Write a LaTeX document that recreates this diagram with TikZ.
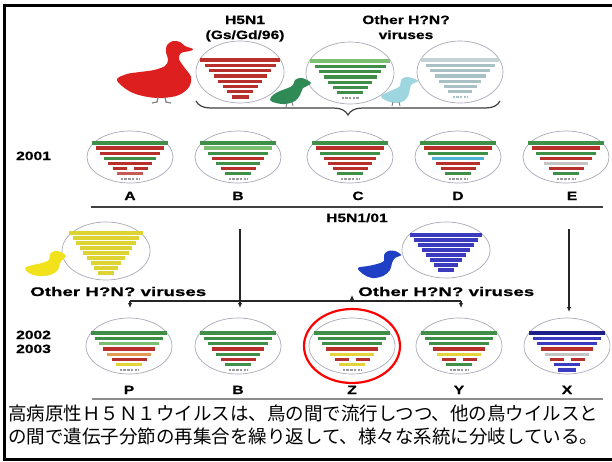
\documentclass[tikz,border=0pt]{standalone}
\usepackage{fontspec}
\setmainfont{Liberation Sans}
\newfontfamily\labfont[FakeStretch=1.3, BoldFeatures={FakeBold=0.6}]{Liberation Sans}
\newfontfamily\widefont[FakeStretch=1.5, BoldFeatures={FakeBold=0.6}]{Liberation Sans}
\newfontfamily\jpfont{Noto Sans CJK JP}
\usetikzlibrary{shapes.geometric, arrows.meta, decorations.pathreplacing}

% segment colours
\definecolor{segG}{HTML}{3F8F48}
\definecolor{segLG}{HTML}{7DBF72}
\definecolor{segR}{HTML}{B8302C}
\definecolor{segO}{HTML}{E39A55}
\definecolor{segY}{HTML}{E2D43A}
\definecolor{segB}{HTML}{4FB3D6}
\definecolor{segGr}{HTML}{C4C4C4}
\definecolor{segN}{HTML}{1F1F8A}
\definecolor{segBl}{HTML}{3B3BC0}
\definecolor{segT}{HTML}{A9C0C4}
\definecolor{segYel}{HTML}{DDD332}
\definecolor{segLbl}{HTML}{9A9A9A}
\definecolor{rim}{HTML}{A9A9B9}
\definecolor{duckRed}{HTML}{DD1F1F}
\definecolor{duckGreen}{HTML}{2F8A55}
\definecolor{duckCyan}{HTML}{9ED6DF}
\definecolor{duckYellow}{HTML}{F2E21C}
\definecolor{duckBlue}{HTML}{1F3FC4}

\tikzset{
  shell/.style={ellipse, draw=rim, line width=0.7pt, minimum width=86pt,
                minimum height=52pt, inner sep=0pt},
  seg/.style={line width=3.3pt},
  lbl/.style={font=\labfont\bfseries\fontsize{12}{13}\selectfont, inner sep=0pt, anchor=base},
  widelbl/.style={font=\widefont\bfseries\fontsize{12.5}{13}\selectfont, inner sep=0pt, anchor=base west},
  yr/.style={lbl, anchor=base west},
  wire/.style={line width=1.6pt, black!85},
  tipped/.style={wire, -{Latex[length=5pt,width=4.5pt]}},
  rule/.style={line width=1.3pt, black!60},
  captext/.style={font=\jpfont\fontsize{18.5}{20}\selectfont, inner sep=0pt, anchor=base west},
}

% stacked gene segments: #1 centre x, #2 top y, #3 step, #4 first half width,
% #5 half width decrement, #6 list of colour/kind (0 bar, 1 split bar, 2 tag)
\newcommand\segs[6]{%
  \foreach \c/\s [count=\i from 0] in {#6}{%
    \pgfmathsetmacro\yy{#2+\i*#3}%
    \pgfmathsetmacro\hw{#4-\i*#5}%
    \ifnum\s=1
      \draw[seg,\c] (#1-\hw,\yy) -- (#1-3.5,\yy) (#1+3.5,\yy) -- (#1+\hw,\yy);
    \else\ifnum\s=2
      \draw[\c,line width=2.4pt,dash pattern=on 2.5pt off 1.2pt] (#1-\hw,\yy) -- (#1+\hw,\yy);
    \else
      \draw[seg,\c] (#1-\hw,\yy) -- (#1+\hw,\yy);
    \fi\fi
  }}

\begin{document}
\begin{tikzpicture}[x=1pt,y=-1pt]
\useasboundingbox (0,0) rectangle (612,461);
\fill[white] (0,0) rectangle (612,461);

% outer frame
\draw[line width=3pt] (612,5.5) -- (4.5,5.5) -- (4.5,459) -- (612,459);

% ---------- source viruses ----------
\node[lbl] (h5a) at (245,24) {H5N1};
\node[lbl] (h5b) at (245,39) {(Gs/Gd/96)};
\node[lbl] (oa) at (406,24) {Other H?N?};
\node[lbl] (ob) at (406,39) {viruses};

\node[shell, minimum width=88pt, minimum height=62pt] (src1) at (240,72) {};
\node[shell, minimum width=88pt, minimum height=62pt] (src2) at (350,73) {};
\node[shell, minimum width=86pt, minimum height=62pt] (src3) at (460,72) {};
\segs{240}{60}{5.3}{40}{4.5}{segR/0,segR/0,segR/0,segR/0,segR/0,segR/0,segR/0,segR/0}
\segs{350}{61}{5.3}{40}{4.5}{segLG/0,segG/0,segG/0,segG/0,segG/0,segG/0,segG/0,segLbl/2}
\segs{460}{60}{5.3}{39}{4.5}{segT!70/0,segT/0,segT/0,segT/0,segT/0,segT/0,segT/0,segT/2}

% ducks
\fill[duckRed] plot[smooth cycle, tension=0.55] coordinates {
  (193,49) (185,46) (180,42) (173,41) (167,45) (166,52) (168,60) (165,66)
  (154,70) (140,72) (127,74) (117,79) (122,86) (133,93) (148,97) (163,98)
  (179,95) (189,87) (191,77) (184,67) (179,59) (181,53) (190,51)};
\draw[gray, line width=1.2pt] (158,97) -- (157,102) -- (152,103) (165,97) -- (166,102) -- (171,103);

\fill[duckGreen] plot[smooth cycle, tension=0.6] coordinates {
  (311,83) (305,79) (300,78) (295,80) (293,85) (288,88) (280,91) (273,95)
  (270,100) (276,103) (286,104) (295,101) (300,95) (303,88) (307,86)};
\draw[gray, line width=0.9pt] (287,103) -- (286,107) (292,102) -- (293,106);

\fill[duckCyan] plot[smooth cycle, tension=0.6] coordinates {
  (418,81) (412,78) (406,77) (401,80) (400,86) (395,89) (388,92) (381,96)
  (385,100) (395,103) (404,101) (409,94) (410,87) (412,84)};
\draw[gray, line width=0.9pt] (393,102) -- (392,106) (399,102) -- (400,106);

% brace gathering the sources
\draw[black!75, line width=1.2pt, decorate,
      decoration={brace, amplitude=14pt, mirror}] (196,101) -- (500,101);

% ---------- 2001 ----------
\node[yr] (y2001) at (16,160) {2001};
\node[shell] (A1) at (130,157) {};
\node[shell] (B1) at (238,157) {};
\node[shell] (C1) at (350,157) {};
\node[shell] (D1) at (458,157) {};
\node[shell] (E1) at (566,157) {};
\segs{130}{143}{5.1}{38}{4.1}{segG/0,segR/0,segR/0,segG/0,segR/0,segR/1,segR!80/0,segLbl/2}
\segs{238}{143}{5.1}{38}{4.1}{segG/0,segLG/0,segG/0,segR/0,segG/0,segR/0,segG/0,segLbl/2}
\segs{350}{143}{5.1}{38}{4.1}{segG/0,segR/0,segG/0,segR/0,segR/0,segR/0,segG/0,segLbl/2}
\segs{458}{143}{5.1}{38}{4.1}{segG/0,segR/0,segG/0,segB/0,segR/0,segR/0,segG/0,segLbl/2}
\segs{566}{143}{5.1}{38}{4.1}{segG/0,segR/0,segG/0,segR/0,segGr/0,segR/0,segG/0,segLbl/2}
\node[lbl] (lA1) at (130,200) {A};
\node[lbl] (lB1) at (238,200) {B};
\node[lbl] (lC1) at (358,200) {C};
\node[lbl] (lD1) at (458,200) {D};
\node[lbl] (lE1) at (572,200) {E};
\coordinate (r1a) at (91,207);
\coordinate (r1b) at (603,207);
\draw[rule, black!75] (r1a) -- (r1b);
\node[lbl] (h501) at (357,222) {H5N1/01};

% ---------- reassortment partners ----------
\node[shell, minimum width=88pt, minimum height=58pt] (yel) at (106,251) {};
\segs{106}{233}{5}{37}{3.6}{segYel/0,segYel/0,segYel/0,segYel/0,segYel/0,segYel/0,segYel/0,segYel/0,segYel/0}
\fill[duckYellow] plot[smooth cycle, tension=0.6] coordinates {
  (66,256) (61,252) (55,251) (50,254) (49,260) (42,263) (33,265) (25,268)
  (29,273) (38,276) (50,275) (58,270) (60,263) (63,259)};
\node[widelbl] (oy) at (30,296) {Other H?N? viruses};

\node[shell, minimum width=88pt, minimum height=56pt] (blu) at (446,250) {};
\segs{446}{235}{5}{36}{4}{segBl/0,segBl/0,segBl/0,segBl/0,segBl/0,segBl/0,segBl/0,segBl/0}
\fill[duckBlue] plot[smooth cycle, tension=0.6] coordinates {
  (401,255) (395,251) (388,251) (384,255) (384,261) (377,264) (368,266) (358,268)
  (363,274) (372,278) (383,276) (390,270) (392,263) (395,258)};
\node[widelbl] (obl) at (358,296) {Other H?N? viruses};

% ---------- lineage arrows ----------
\coordinate (bsrc) at (240,229);
\coordinate (xsrc) at (569,229);
\coordinate (jP) at (130,301);
\coordinate (jB) at (240,301);
\coordinate (jZ) at (352,301);
\coordinate (jY) at (461,301);
\coordinate (pdst) at (130,308);
\coordinate (bdst) at (240,308);
\coordinate (zup) at (352,295);
\coordinate (ydst) at (461,308);
\coordinate (xdst) at (569,312);
\draw[wire] (jP) -- (jY);
\draw[tipped] (bsrc) -- (bdst);
\draw[tipped] (jP) -- (pdst);
\draw[tipped] (jY) -- (ydst);
\draw[tipped] (jZ) -- (zup);
\draw[tipped] (xsrc) -- (xdst);

% ---------- 2002-2003 ----------
\node[yr] (y2002) at (16,339) {2002};
\node[yr] (y2003) at (16,353) {2003};
\node[shell, minimum height=56pt] (P2) at (129,346) {};
\node[shell, minimum height=56pt] (B2) at (238,346) {};
\node[shell, minimum height=56pt] (Z2) at (352,346) {};
\node[shell, minimum height=56pt] (Y2) at (459,346) {};
\node[shell, minimum height=56pt] (X2) at (567,346) {};
\segs{129}{333}{5.3}{38}{4.1}{segG/0,segG/0,segLG/0,segR/0,segO/0,segR/0,segY/0,segLbl/2}
\segs{238}{333}{5.3}{38}{4.1}{segG/0,segG/0,segG/0,segR/0,segG/0,segR/0,segG/0,segLbl/2}
\segs{352}{333}{5.3}{38}{4.1}{segG/0,segG/0,segG/0,segR/0,segY/0,segR/1,segY/0,segLbl/2}
\segs{459}{333}{5.3}{38}{4.1}{segG/0,segG/0,segG/0,segR/0,segY/0,segR/1,segG/0,segLbl/2}
\segs{567}{333}{5.3}{38}{4.1}{segN/0,segBl/0,segBl/0,segR/0,segGr/0,segR/1,segBl/0,segBl/0}
\node[ellipse, draw=red, line width=2.2pt, minimum width=96pt, minimum height=74pt] (ring) at (352,346) {};
\node[lbl] (lP2) at (129,394) {P};
\node[lbl] (lB2) at (238,394) {B};
\node[lbl] (lZ2) at (352,394) {Z};
\node[lbl] (lY2) at (459,394) {Y};
\node[lbl] (lX2) at (567,394) {X};
\coordinate (r2a) at (92,399);
\coordinate (r2b) at (603,399);
\draw[rule, black!45] (r2a) -- (r2b);

% ---------- caption ----------
\node[captext] (cap1) at (8,420) {高病原性Ｈ５Ｎ１ウイルスは、鳥の間で流行しつつ、他の鳥ウイルスと};
\node[captext] (cap2) at (8,443) {の間で遺伝子分節の再集合を繰り返して、様々な系統に分岐している。};
\end{tikzpicture}
\end{document}
